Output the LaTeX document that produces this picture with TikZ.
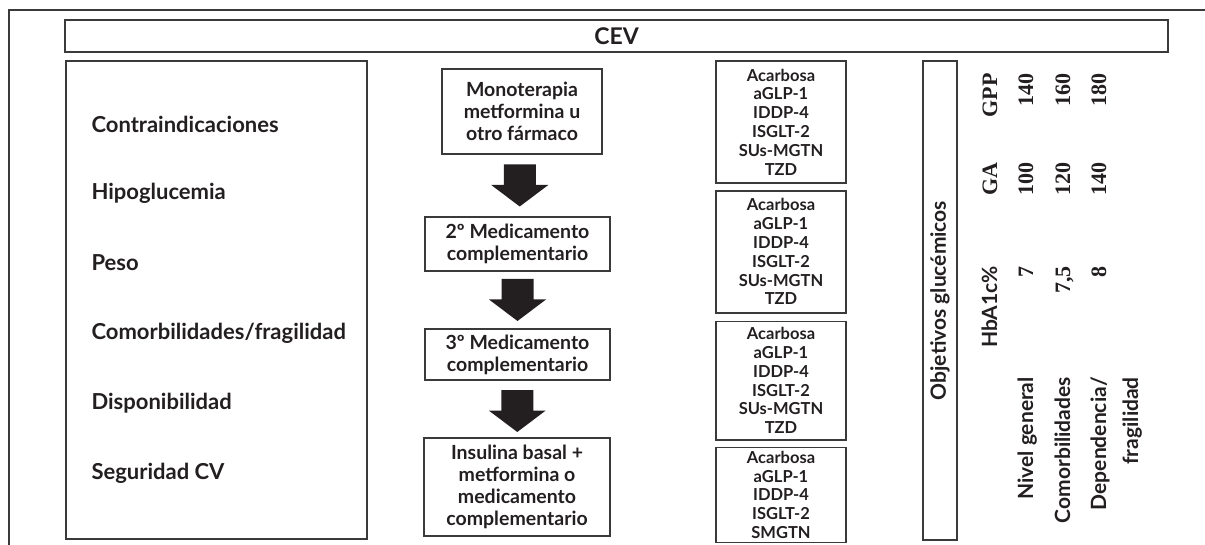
\documentclass[tikz,border=0pt]{standalone}
\usepackage{fontspec}
\setmainfont{Lato}
\newfontfamily\serifnum{Liberation Serif}
\usepackage{tikz}
\usetikzlibrary{positioning, calc}
\definecolor{ink}{HTML}{231F20}
\definecolor{rule}{HTML}{3A3A3A}

\tikzset{
	box/.style={draw=rule, line width=1.8pt, inner sep=0pt, align=center, text=ink},
	item/.style={anchor=base west, text=ink, font=\fontsize{22}{26}\selectfont\bfseries},
	stepbox/.style={box, font=\fontsize{19.5}{21.8}\selectfont\bfseries},
	druglist/.style={box, minimum width=130pt, font=\fontsize{16.5}{18.8}\selectfont\bfseries},
	goal/.style={rotate=90, anchor=base east, inner sep=0pt, text=ink, font=\fontsize{21}{24}\selectfont\bfseries},
	goalnum/.style={rotate=90, anchor=base east, inner sep=0pt, text=ink, font=\fontsize{22}{24}\serifnum\bfseries},
}
% flecha gruesa hacia abajo, centrada en #1
\newcommand{\stepdown}[1]{%
	\fill[ink] ($(#1)+(-16,-21)$) -- ($(#1)+(16,-21)$) -- ($(#1)+(16,-0.5)$) -- ($(#1)+(28.5,-0.5)$)
		-- ($(#1)+(0,21)$) -- ($(#1)+(-28.5,-0.5)$) -- ($(#1)+(-16,-0.5)$) -- cycle;}

\begin{document}
\begin{tikzpicture}[x=1pt, y=-1pt]
	\useasboundingbox (0,0) rectangle (1205,545);
	\draw[rule, line width=1.3pt] (1205,10) -- (9,10) -- (9,545);

	\node[box, minimum width=1103pt, minimum height=32pt, font=\fontsize{23}{26}\selectfont\bfseries] (cev) at (616.5,36) {CEV};

	% criterios
	\node[box, minimum width=301pt, minimum height=478pt] (crit) at (216.5,300) {};
	\node[item] (c1) at (88,133) {Contraindicaciones};
	\node[item] (c2) at (88,200) {Hipoglucemia};
	\node[item] (c3) at (88,271) {Peso};
	\node[item] (c4) at (88,340) {Comorbilidades/fragilidad};
	\node[item] (c5) at (88,409) {Disponibilidad};
	\node[item] (c6) at (88,479) {Seguridad CV};

	% escalones
	\node[stepbox, minimum width=160pt, minimum height=85pt] (m1) at (522,111.5) {Monoterapia\\metformina u\\otro fármaco};
	\node[stepbox, minimum width=185pt, minimum height=54pt] (m2) at (517.5,244) {2º Medicamento\\complementario};
	\node[stepbox, minimum width=185pt, minimum height=51pt] (m3) at (517.5,354.5) {3º Medicamento\\complementario};
	\node[stepbox, minimum width=186pt, minimum height=98pt] (m4) at (517,487) {Insulina basal +\\metformina o\\medicamento\\complementario};

	\coordinate (a1) at ($(m1.south)!0.5!(m2.north)$);
	\coordinate (a2) at ($(m2.south)!0.5!(m3.north)$);
	\coordinate (a3) at ($(m3.south)!0.5!(m4.north)+(0,2)$);
	\stepdown{a1}
	\stepdown{a2}
	\stepdown{a3}

	% farmacos
	\node[druglist, minimum height=122pt] (d1) at (781,122) {Acarbosa\\aGLP-1\\IDDP-4\\ISGLT-2\\SUs-MGTN\\TZD};
	\node[druglist, minimum height=122pt, below=6pt of d1] (d2) {Acarbosa\\aGLP-1\\IDDP-4\\ISGLT-2\\SUs-MGTN\\TZD};
	\node[druglist, minimum height=118pt, below=7pt of d2] (d3) {Acarbosa\\aGLP-1\\IDDP-4\\ISGLT-2\\SUs-MGTN\\TZD};
	\node[druglist, minimum height=95pt, below=6pt of d3] (d4) {Acarbosa\\aGLP-1\\IDDP-4\\ISGLT-2\\SMGTN};

	% objetivos
	\node[box, rotate=90, minimum width=479pt, minimum height=34pt, font=\fontsize{21}{24}\selectfont\bfseries] (obj) at (940,300.5) {Objetivos glucémicos};

	\node[goal] (hba) at (997,266) {HbA1c\%};
	\node[goalnum] (ga) at (997,162) {GA};
	\node[goalnum] (gpp) at (997,73) {GPP};

	\node[goal] (r1) at (1033,377) {Nivel general};
	\node[goalnum] (r1a) at (1033,266) {7};
	\node[goalnum] (r1b) at (1033,162) {100};
	\node[goalnum] (r1c) at (1033,73) {140};

	\node[goal] (r2) at (1070,377) {Comorbilidades};
	\node[goalnum] (r2a) at (1070,266) {7,5};
	\node[goalnum] (r2b) at (1070,162) {120};
	\node[goalnum] (r2c) at (1070,73) {160};

	\node[goal] (r3) at (1106,377) {Dependencia/};
	\node[goal] (r3x) at (1138,377) {fragilidad};
	\node[goalnum] (r3a) at (1106,266) {8};
	\node[goalnum] (r3b) at (1106,162) {140};
	\node[goalnum] (r3c) at (1106,73) {180};
\end{tikzpicture}
\end{document}
